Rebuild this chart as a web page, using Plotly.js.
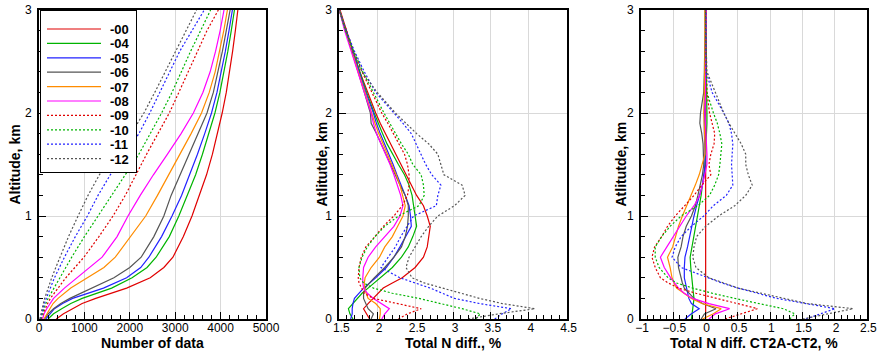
<!DOCTYPE html>
<html>
<head>
<meta charset="utf-8">
<script src="https://cdn.plot.ly/plotly-3.0.1.min.js"></script>
<style>html,body{margin:0;padding:0;background:#fff;}#chart{width:877px;height:353px;}</style>
</head>
<body>
<div id="chart"></div>
<script>
// ---------- names / styles ----------
const seriesNames = ['-00','-04','-05','-06','-07','-08','-09','-10','-11','-12'];
const seriesColors = ['#e00000','#00b400','#2222ff','#555555','#ff8c00','#ff00ff','#e00000','#00b400','#2222ff','#555555'];
const seriesDash = ['solid','solid','solid','solid','solid','solid','2px,2px','2px,2px','2px,2px','2px,2px'];

// ---------- Panel 1: Number of data ----------
const alt1 = [0,0.05,0.1,0.15,0.2,0.3,0.4,0.5,0.6,0.8,1.0,1.2,1.4,1.6,1.8,2.0,2.2,2.4,2.6,2.8,3.0];
const count_00 = [380,540,740,950,1250,1930,2450,2750,2950,3180,3370,3530,3690,3820,3935,4035,4125,4200,4265,4325,4380];
const count_04 = [200,320,500,700,950,1600,2050,2380,2580,2870,3080,3270,3450,3600,3745,3875,3985,4075,4160,4235,4305];
const count_05 = [150,250,340,520,740,1420,1930,2240,2420,2700,2930,3140,3320,3490,3650,3800,3920,4015,4105,4185,4260];
const count_06 = [120,200,320,480,680,1170,1650,2000,2250,2530,2750,2910,3110,3310,3510,3700,3840,3945,4040,4125,4210];
const count_07 = [110,170,240,310,420,700,1080,1430,1680,2010,2350,2610,2860,3110,3350,3580,3750,3880,3980,4070,4150];
const count_08 = [80,110,170,240,320,560,840,1130,1390,1720,1960,2230,2520,2830,3130,3400,3610,3770,3890,3990,4075];
const count_09 = [50,90,140,190,250,420,590,790,990,1320,1630,1900,2130,2370,2620,2870,3080,3290,3490,3700,3950];
const count_10 = [40,70,110,150,200,330,460,580,720,1000,1300,1600,1900,2200,2450,2700,2930,3130,3340,3560,3780];
const count_11 = [30,55,85,120,160,250,340,450,560,800,1065,1300,1570,1900,2200,2440,2660,2880,3100,3370,3640];
const count_12 = [20,40,65,95,125,200,280,370,460,650,860,1080,1330,1650,2030,2310,2550,2780,3010,3240,3470];
const counts = [count_00,count_04,count_05,count_06,count_07,count_08,count_09,count_10,count_11,count_12];

// ---------- Panels 2 & 3 altitude grid ----------
const alt2 = [0,0.05,0.1,0.15,0.2,0.25,0.3,0.35,0.4,0.5,0.6,0.7,0.8,0.9,1.0,1.1,1.2,1.3,1.4,1.5,1.6,1.7,1.8,1.9,2.0,2.2,2.4,2.6,2.8,3.0];

// ---------- Panel 2: Total N diff., % ----------
const diff_00 = [1.90,1.86,1.82,1.88,1.95,2.01,2.08,2.20,2.33,2.50,2.61,2.66,2.68,2.70,2.66,2.61,2.52,2.45,2.38,2.31,2.25,2.18,2.11,2.04,1.98,1.87,1.77,1.68,1.59,1.51];
const diff_04 = [1.68,1.64,1.62,1.68,1.74,1.80,1.88,1.96,2.05,2.20,2.32,2.41,2.47,2.52,2.50,2.48,2.46,2.42,2.36,2.28,2.20,2.13,2.07,2.01,1.96,1.86,1.77,1.68,1.59,1.50];
const diff_05 = [1.65,1.67,1.67,1.68,1.70,1.76,1.82,1.90,1.98,2.12,2.22,2.30,2.38,2.45,2.44,2.42,2.37,2.31,2.26,2.21,2.15,2.09,2.04,1.99,1.95,1.85,1.76,1.67,1.58,1.50];
const diff_06 = [1.92,1.95,1.88,1.85,1.82,1.82,1.84,1.90,1.96,2.10,2.22,2.32,2.37,2.40,2.41,2.41,2.37,2.30,2.24,2.18,2.12,2.05,1.99,1.92,1.91,1.83,1.75,1.66,1.58,1.50];
const diff_07 = [2.03,2.04,2.04,1.98,1.88,1.85,1.83,1.83,1.84,1.92,2.03,2.10,2.20,2.27,2.34,2.37,2.34,2.30,2.25,2.19,2.13,2.07,2.02,1.97,1.93,1.84,1.75,1.66,1.58,1.50];
const diff_08 = [2.06,2.10,2.16,2.05,1.95,1.87,1.82,1.81,1.81,1.82,1.88,1.98,2.10,2.22,2.30,2.34,2.31,2.27,2.22,2.17,2.11,2.05,1.99,1.95,1.92,1.83,1.74,1.65,1.57,1.50];
const diff_09 = [2.28,2.40,2.58,2.25,1.95,1.83,1.79,1.76,1.75,1.76,1.79,1.85,1.97,2.08,2.22,2.33,2.40,2.42,2.42,2.40,2.36,2.29,2.22,2.14,2.06,1.93,1.80,1.69,1.59,1.50];
const diff_10 = [3.30,3.36,3.12,2.85,2.55,2.20,1.95,1.82,1.77,1.76,1.80,1.87,1.97,2.10,2.28,2.55,2.62,2.61,2.58,2.47,2.41,2.32,2.24,2.16,2.09,1.95,1.81,1.69,1.58,1.50];
const diff_11 = [3.55,3.65,3.77,3.35,3.02,2.85,2.70,2.50,2.30,2.05,2.15,2.24,2.31,2.40,2.48,2.78,2.80,2.84,2.72,2.64,2.58,2.52,2.45,2.34,2.22,1.98,1.83,1.70,1.59,1.50];
const diff_12 = [3.20,3.60,4.08,3.65,3.35,3.10,2.85,2.62,2.46,2.38,2.42,2.50,2.58,2.68,2.80,3.02,3.16,3.12,2.88,2.84,2.80,2.68,2.52,2.38,2.24,2.00,1.80,1.67,1.58,1.50];
const diffs = [diff_00,diff_04,diff_05,diff_06,diff_07,diff_08,diff_09,diff_10,diff_11,diff_12];

// ---------- Panel 3: Total N diff. CT2A-CT2, % ----------
const rel_00 = [0,0,0,0,0,0,0,0,0,0,0,0,0,0,0,0,0,0,0,0,0,0,0,0,0,0,0,0,0,0];
const rel_04 = [-0.22,-0.21,-0.20,-0.19,-0.18,-0.19,-0.20,-0.21,-0.22,-0.23,-0.24,-0.21,-0.18,-0.15,-0.12,-0.10,-0.07,-0.05,-0.02,-0.01,0.00,0.01,0.02,0.02,0.02,0.01,0.01,0.01,0.01,0.01];
const rel_05 = [-0.32,-0.22,-0.10,-0.22,-0.26,-0.28,-0.30,-0.32,-0.33,-0.33,-0.32,-0.28,-0.25,-0.22,-0.18,-0.14,-0.10,-0.05,-0.03,-0.01,-0.01,-0.02,-0.02,-0.02,-0.02,-0.01,0.00,0.00,0.00,0.00];
const rel_06 = [-0.07,-0.02,0.16,-0.05,-0.18,-0.26,-0.33,-0.36,-0.38,-0.42,-0.43,-0.38,-0.35,-0.30,-0.22,-0.16,-0.12,-0.08,-0.05,-0.03,-0.03,-0.04,-0.06,-0.09,-0.08,-0.03,-0.02,-0.01,-0.01,-0.01];
const rel_07 = [-0.05,0.12,0.24,-0.06,-0.22,-0.33,-0.45,-0.49,-0.52,-0.55,-0.59,-0.51,-0.47,-0.42,-0.36,-0.29,-0.22,-0.16,-0.10,-0.05,-0.01,-0.01,-0.02,-0.03,-0.03,-0.02,-0.01,-0.01,-0.01,-0.01];
const rel_08 = [0.05,0.15,0.37,0.05,-0.20,-0.33,-0.42,-0.48,-0.54,-0.64,-0.70,-0.60,-0.50,-0.40,-0.30,-0.18,-0.09,-0.05,-0.02,0.02,0.02,0.01,0.00,-0.01,-0.01,0.00,0.00,0.01,0.01,0.01];
const rel_09 = [0.30,0.55,0.80,0.49,0.15,-0.15,-0.42,-0.58,-0.70,-0.78,-0.83,-0.79,-0.68,-0.59,-0.47,-0.32,-0.18,-0.06,0.08,0.05,0.08,0.13,0.14,0.10,0.06,0.02,0.01,0.00,0.00,0.00];
const rel_10 = [1.30,1.38,1.20,0.80,0.45,0.10,-0.20,-0.45,-0.58,-0.72,-0.78,-0.78,-0.68,-0.55,-0.38,-0.12,0.06,0.14,0.20,0.22,0.24,0.25,0.22,0.18,0.12,0.02,0.01,0.00,0.00,0.00];
const rel_11 = [1.55,1.78,2.00,1.55,1.10,0.80,0.50,0.25,0.03,-0.38,-0.52,-0.47,-0.38,-0.22,-0.03,0.12,0.32,0.42,0.41,0.40,0.41,0.42,0.40,0.36,0.28,0.10,0.01,0.01,0.00,0.00];
const rel_12 = [1.50,1.90,2.28,1.57,1.20,0.82,0.50,0.28,0.05,-0.15,-0.20,-0.18,-0.14,0.00,0.20,0.45,0.62,0.72,0.66,0.62,0.62,0.55,0.45,0.36,0.28,0.15,0.02,0.01,0.00,0.00];
const rels = [rel_00,rel_04,rel_05,rel_06,rel_07,rel_08,rel_09,rel_10,rel_11,rel_12];

// ---------- titles ----------
const xTitles = ['Number of data', 'Total N diff., %', 'Total N diff. CT2A-CT2, %'];
const yTitles = ['Altitude, km', 'Atlitutde, km', 'Atlitutde, km'];

// ---------- build traces ----------
const traces = [];
function addPanel(xs, ys, xa, ya, legend) {
  xs.forEach((arr, i) => {
    traces.push({
      type: 'scatter', mode: 'lines',
      x: arr, y: ys,
      xaxis: xa, yaxis: ya,
      name: seriesNames[i],
      showlegend: legend,
      line: {color: seriesColors[i], width: 1.2, dash: seriesDash[i]},
      hoverinfo: 'skip'
    });
  });
}
addPanel(counts, alt1, 'x', 'y', true);
addPanel(diffs, alt2, 'x2', 'y2', false);
addPanel(rels, alt2, 'x3', 'y3', false);

const W = 877, H = 353;
const font = {family: 'Liberation Sans, Arial, Helvetica, sans-serif', color: '#000', size: 12};

function xAxis(dom, rng, dtick, minorDtick, anchor, shift) {
  return {
    domain: dom, range: rng, dtick: dtick, tick0: rng[0] < 0 ? -1 : 0, anchor: anchor,
    ticks: 'inside', ticklen: 7, tickwidth: 1, tickcolor: '#000',
    minor: {dtick: minorDtick, ticks: 'inside', ticklen: 4, tickwidth: 1, tickcolor: '#000', showgrid: false},
    showline: true, mirror: true, linecolor: '#000', linewidth: 2,
    showgrid: true, gridcolor: '#d9d9d9', gridwidth: 1, zeroline: false,
    tickfont: {size: 12}, ticklabelstandoff: -3, ticklabelshift: shift,
    fixedrange: true
  };
}
function yAxis(dom, anchor) {
  return {
    domain: dom, range: [0, 3], dtick: 1, tick0: 0, anchor: anchor,
    ticks: 'inside', ticklen: 7, tickwidth: 1, tickcolor: '#000',
    minor: {dtick: 0.2, ticks: 'inside', ticklen: 4, tickwidth: 1, tickcolor: '#000', showgrid: false},
    showline: true, mirror: true, linecolor: '#000', linewidth: 2,
    showgrid: true, gridcolor: '#d9d9d9', gridwidth: 1, zeroline: false,
    tickfont: {size: 12}, ticklabelstandoff: 3,
    fixedrange: true
  };
}
const yDom = [(H - 319) / H, (H - 10) / H];
const xDoms = [[39 / W, 266 / W], [339.3 / W, 566.7 / W], [641 / W, 867.3 / W]];
const yTitleX = [15, 322, 621];

// axis titles, placed as text just outside each panel
const annotations = [];
xTitles.forEach((t, i) => {
  annotations.push({
    text: '<b>' + t + '</b>', showarrow: false,
    xref: 'paper', yref: 'paper',
    x: (xDoms[i][0] + xDoms[i][1]) / 2, y: (H - 343) / H,
    xanchor: 'center', yanchor: 'middle',
    font: {size: 14, color: '#000'}
  });
  annotations.push({
    text: '<b>' + yTitles[i] + '</b>', showarrow: false, textangle: -90,
    xref: 'paper', yref: 'paper',
    x: yTitleX[i] / W, y: (yDom[0] + yDom[1]) / 2,
    xanchor: 'center', yanchor: 'middle',
    font: {size: 14, color: '#000'}
  });
});

const layout = {
  width: W, height: H,
  margin: {l: 0, r: 0, t: 0, b: 0},
  paper_bgcolor: '#fff', plot_bgcolor: '#fff',
  font: font,
  showlegend: true,
  legend: {
    x: 40 / W, y: (H - 10) / H, xanchor: 'left', yanchor: 'top',
    bgcolor: '#fff', bordercolor: '#000', borderwidth: 1,
    font: {size: 13, family: 'Liberation Sans, Arial, sans-serif', weight: 'bold'},
    itemwidth: 61, tracegroupgap: 0
  },
  annotations: annotations,
  xaxis: xAxis(xDoms[0], [0, 5000], 1000, 200, 'y', 0),
  yaxis: yAxis(yDom, 'x'),
  xaxis2: xAxis(xDoms[1], [1.5, 4.5], 0.5, 0.1, 'y2', 2),
  yaxis2: yAxis(yDom, 'x2'),
  xaxis3: xAxis(xDoms[2], [-1, 2.5], 0.5, 0.1, 'y3', 1),
  yaxis3: yAxis(yDom, 'x3')
};

// Tighten the legend rows to match the compact legend box of the original figure
function compactLegend(gd) {
  const leg = gd.querySelector('g.legend');
  if (!leg) return;
  const items = leg.querySelectorAll('g.traces');
  items.forEach((g, i) => {
    g.setAttribute('transform', 'translate(1,' + (19 + i * 14.4) + ')');
    g.querySelectorAll('g.legendlines path').forEach(p => p.setAttribute('d', 'M6,0h54'));
    const t = g.querySelector('text.legendtext');
    if (t) t.setAttribute('x', 69);
  });
  leg.querySelectorAll('rect.bg').forEach(bg => {
    bg.setAttribute('width', 96); bg.setAttribute('height', 162);
  });
  const sb = leg.querySelector('g.scrollbox');
  if (sb) sb.removeAttribute('clip-path');
}

const gd = document.getElementById('chart');
Plotly.newPlot(gd, traces, layout, {staticPlot: true, displayModeBar: false}).then(() => {
  compactLegend(gd);
  requestAnimationFrame(() => compactLegend(gd));
});
</script>
</body>
</html>
